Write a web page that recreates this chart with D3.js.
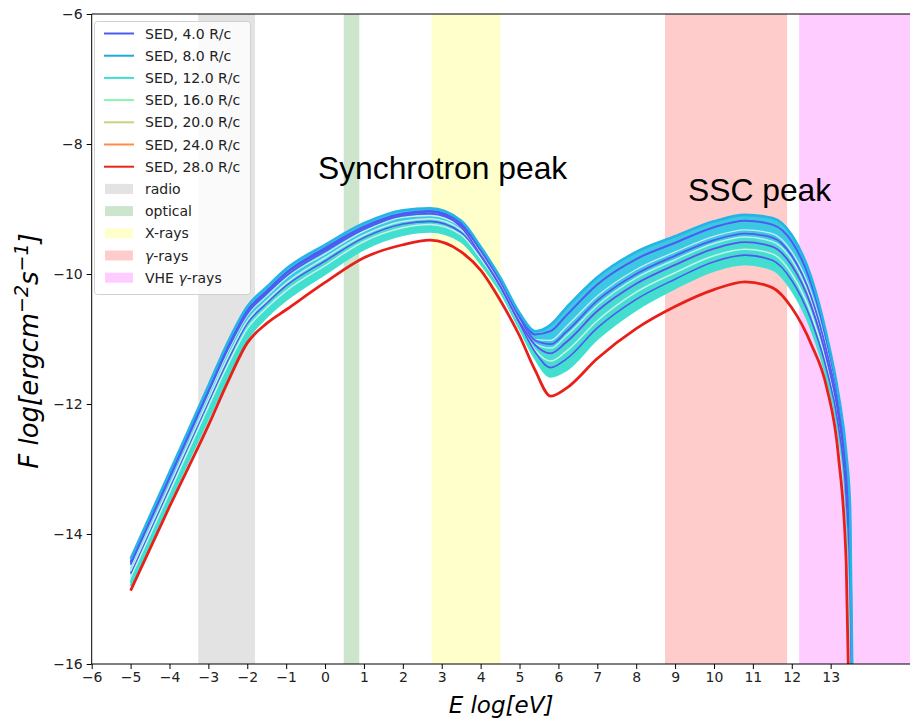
<!DOCTYPE html>
<html><head><meta charset="utf-8">
<script src="https://cdn.jsdelivr.net/npm/d3@7"></script>
<style>body{margin:0;background:#fff}</style>
</head><body>
<svg id="c" width="910" height="719"></svg>
<script>
// ---- data (log10 E [eV] grid and log10 F curves) ----
const logE   = [-5,-4,-3,-2.5,-2,-1.5,-1,0,1,2,2.7,3.5,4,4.5,5,5.4,5.8,6.2,7,8,9,10,10.8,11.5,12,12.5,12.9,13.2,13.4,13.5,13.56];
const sedTop = [-14.38,-13.05,-11.72,-11.05,-10.50,-10.20,-9.92,-9.55,-9.22,-9.02,-8.99,-9.18,-9.58,-10.05,-10.60,-10.88,-10.78,-10.52,-10.05,-9.66,-9.42,-9.19,-9.09,-9.14,-9.40,-10.05,-10.95,-11.85,-12.75,-13.60,-16.30];
const sedL1  = [-14.43,-13.09,-11.78,-11.11,-10.56,-10.26,-9.98,-9.60,-9.27,-9.07,-9.03,-9.22,-9.61,-10.08,-10.63,-10.93,-10.88,-10.64,-10.16,-9.77,-9.52,-9.28,-9.18,-9.24,-9.50,-10.15,-11.03,-11.92,-12.85,-13.77,-16.38];
const sedL2  = [-14.47,-13.15,-11.82,-11.16,-10.61,-10.30,-10.03,-9.65,-9.31,-9.10,-9.07,-9.25,-9.64,-10.11,-10.67,-11.02,-11.08,-10.89,-10.41,-10.00,-9.72,-9.48,-9.38,-9.44,-9.72,-10.35,-11.20,-12.08,-13.07,-14.13,-16.57];
const sedL8  = [-14.51,-13.16,-11.86,-11.20,-10.64,-10.34,-10.06,-9.69,-9.34,-9.13,-9.10,-9.28,-9.66,-10.12,-10.67,-11.01,-11.02,-10.81,-10.34,-9.93,-9.66,-9.42,-9.32,-9.38,-9.66,-10.29,-11.15,-12.03,-13.01,-14.02,-16.51];
const sedL3  = [-14.57,-13.25,-11.93,-11.28,-10.72,-10.41,-10.14,-9.75,-9.40,-9.19,-9.15,-9.32,-9.70,-10.15,-10.71,-11.07,-11.14,-10.95,-10.48,-10.06,-9.78,-9.53,-9.43,-9.50,-9.78,-10.41,-11.24,-12.12,-13.13,-14.23,-16.62];
const sedL4  = [-14.44,-13.12,-11.79,-11.13,-10.57,-10.27,-9.99,-9.62,-9.28,-9.08,-9.04,-9.28,-9.71,-10.18,-10.74,-11.09,-11.22,-11.05,-10.57,-10.15,-9.86,-9.61,-9.51,-9.58,-9.87,-10.49,-11.31,-12.18,-13.22,-14.37,-16.69];
const sedL5  = [-14.67,-13.36,-12.04,-11.40,-10.84,-10.52,-10.26,-9.87,-9.50,-9.29,-9.24,-9.40,-9.76,-10.20,-10.77,-11.17,-11.34,-11.19,-10.72,-10.28,-9.98,-9.72,-9.62,-9.69,-10.00,-10.61,-11.41,-12.27,-13.35,-14.58,-16.79];
const sedL6  = [-14.75,-13.45,-12.12,-11.49,-10.92,-10.60,-10.34,-9.94,-9.57,-9.35,-9.30,-9.46,-9.81,-10.24,-10.81,-11.25,-11.48,-11.36,-10.88,-10.43,-10.12,-9.85,-9.75,-9.83,-10.14,-10.75,-11.52,-12.37,-13.49,-14.82,-16.91];
const sedL7  = [-14.61,-13.29,-11.97,-11.33,-10.76,-10.45,-10.18,-9.80,-9.44,-9.23,-9.19,-9.36,-9.72,-10.19,-10.76,-11.20,-11.44,-11.31,-10.83,-10.39,-10.08,-9.81,-9.71,-9.79,-10.10,-10.71,-11.48,-12.34,-13.45,-14.75,-16.87];
const sedBot = [-14.80,-13.50,-12.22,-11.58,-11.00,-10.66,-10.40,-10.00,-9.62,-9.40,-9.35,-9.50,-9.84,-10.27,-10.84,-11.30,-11.58,-11.48,-11.00,-10.55,-10.22,-9.95,-9.85,-9.93,-10.25,-10.85,-11.60,-12.45,-13.60,-15.00,-17.00];
const sedRed = [-14.87,-13.58,-12.33,-11.66,-11.06,-10.76,-10.55,-10.13,-9.75,-9.55,-9.48,-9.66,-9.94,-10.40,-10.95,-11.48,-11.88,-11.76,-11.30,-10.84,-10.50,-10.24,-10.12,-10.21,-10.52,-11.08,-11.75,-12.80,-14.45,-17.50,-18.50];

const bandNames  = ["radio","optical","X-rays","γ-rays","VHE γ-rays"];
const bandStart  = [-3.26, 0.48, 2.74, 8.74, 12.19];
const bandEnd    = [-1.80, 0.88, 4.51, 11.88, 15.2];
const bandColors = ["#e3e3e3","#cde5cd","#ffffcc","#ffcccc","#ffccff"];

const legendRc     = ["4.0","8.0","12.0","16.0","20.0","24.0","28.0"];
const legendColors = ["#4b5cf0","#1fa9e0","#3ddfcf","#85f7b0","#c5d37e","#ff8c4b","#e8261a"];

const xTicks = d3.range(-6, 14);
const yTicks = [-16,-14,-12,-10,-8,-6];

// ---- layout ----
const svg = d3.select("#c");
const L = 91.7, R = 910, T = 14, B = 664;
const x = d3.scaleLinear().domain([-6, 15.04]).range([L, R]);
const y = d3.scaleLinear().domain([-16, -6]).range([B, T]);

svg.append("defs").append("clipPath").attr("id","clip")
  .append("rect").attr("x",L).attr("y",T).attr("width",R-L).attr("height",B-T);
const plot = svg.append("g").attr("clip-path","url(#clip)");

// bands
plot.selectAll("rect.band").data(bandNames).enter().append("rect")
  .attr("class","band")
  .attr("x",(d,i)=>x(bandStart[i])).attr("width",(d,i)=>x(bandEnd[i])-x(bandStart[i]))
  .attr("y",T).attr("height",B-T).attr("fill",(d,i)=>bandColors[i]);

const pts = arr => arr.map((v,i)=>[logE[i], v]);
const line = d3.line().x(d=>x(d[0])).y(d=>y(d[1])).curve(d3.curveMonotoneX);
const area = (hi, lo) => d3.area().x((d,i)=>x(logE[i])).y0((d,i)=>y(lo[i])).y1((d,i)=>y(hi[i])).curve(d3.curveMonotoneX)(logE);

plot.append("path").attr("d", area(sedTop, sedL3)).attr("fill","#3cc8e2");
plot.append("path").attr("d", area(sedL3, sedBot)).attr("fill","#46dcd0");

const curves = [
  [sedBot,"#40e0d0",2.2],
  [sedL6,"#3ee2cc",2],
  [sedL5,"#c4f3ec",1.5],
  [sedL7,"#5058ee",1.6],
  [sedL3,"#b8f0ea",1.5],
  [sedL8,"#c6eef4",1.3],
  [sedL4,"#5a52f0",1.8],
  [sedL2,"#4f5cf0",1.8],
  [sedL1,"#4c5cf2",2],
  [sedTop,"#26b4e6",2.6],
  [sedRed,"#e8201a",2.8]
];
curves.forEach(c=>{
  plot.append("path").attr("d", line(pts(c[0]))).attr("fill","none")
    .attr("stroke",c[1]).attr("stroke-width",c[2]).attr("stroke-linejoin","round");
});

// axes lines
svg.append("line").attr("x1",L).attr("x2",R).attr("y1",T).attr("y2",T).attr("stroke","#000");
svg.append("line").attr("x1",L).attr("x2",R).attr("y1",B).attr("y2",B).attr("stroke","#000");
svg.append("line").attr("x1",L).attr("x2",L).attr("y1",T).attr("y2",B).attr("stroke","#000");

const fmt = v => (v<0 ? "\u2212"+Math.abs(v) : ""+v);
const xa = svg.append("g").attr("transform",`translate(0,${B})`)
  .call(d3.axisBottom(x).tickValues(xTicks).tickSize(5).tickPadding(3).tickFormat(fmt));
const ya = svg.append("g").attr("transform",`translate(${L},0)`)
  .call(d3.axisLeft(y).tickValues(yTicks).tickSize(5).tickPadding(4).tickFormat(fmt));
[xa,ya].forEach(a=>{
  a.select(".domain").remove();
  a.selectAll("text").attr("font-family","DejaVu Sans").attr("font-size",14).attr("fill","#222");
  a.selectAll("line").attr("stroke","#000");
});

// axis labels
svg.append("text").attr("x",501).attr("y",713).attr("text-anchor","middle")
  .attr("font-family","DejaVu Sans").attr("font-style","italic").attr("font-size",23)
  .text("E log[eV]");
const yl = svg.append("text").attr("transform","translate(38,351) rotate(-90)").attr("text-anchor","middle")
  .attr("font-family","DejaVu Sans").attr("font-style","italic").attr("font-size",26);
yl.append("tspan").text("F log[ergcm");
yl.append("tspan").attr("dy",-10).attr("font-size",19).text("\u22122");
yl.append("tspan").attr("dy",10).text("s");
yl.append("tspan").attr("dy",-10).attr("font-size",19).text("\u22121");
yl.append("tspan").attr("dy",10).text("]");

// annotations
svg.append("text").attr("x",318).attr("y",179).attr("font-family","Liberation Sans, Arial")
  .attr("font-size",31.8).text("Synchrotron peak");
svg.append("text").attr("x",688).attr("y",201).attr("font-family","Liberation Sans, Arial")
  .attr("font-size",31.8).text("SSC peak");

// legend
const lg = svg.append("g");
lg.append("rect").attr("x",94.5).attr("y",21.5).attr("width",156).attr("height",273).attr("rx",3)
  .attr("fill","#fff").attr("fill-opacity",0.8).attr("stroke","#d0d0d0");
const rowY = i => 33.5 + i*22.2;
legendRc.forEach((r,i)=>{
  lg.append("line").attr("x1",104).attr("x2",134).attr("y1",rowY(i)).attr("y2",rowY(i))
    .attr("stroke",legendColors[i]).attr("stroke-width",2);
  lg.append("text").attr("x",145).attr("y",rowY(i)+5).attr("font-family","DejaVu Sans")
    .attr("font-size",14).attr("fill","#222").text(`SED, ${r} R/c`);
});
bandNames.forEach((n,i)=>{
  const ry = rowY(i+7);
  lg.append("rect").attr("x",105).attr("y",ry-5).attr("width",28).attr("height",10).attr("fill",bandColors[i]);
  const t = lg.append("text").attr("x",145).attr("y",ry+5).attr("font-family","DejaVu Sans")
    .attr("font-size",14).attr("fill","#222");
  const parts = n.split("γ");
  parts.forEach((p,k)=>{
    if(k>0) t.append("tspan").attr("font-style","italic").text("γ");
    if(p) t.append("tspan").text(p);
  });
});
</script>
</body></html>
